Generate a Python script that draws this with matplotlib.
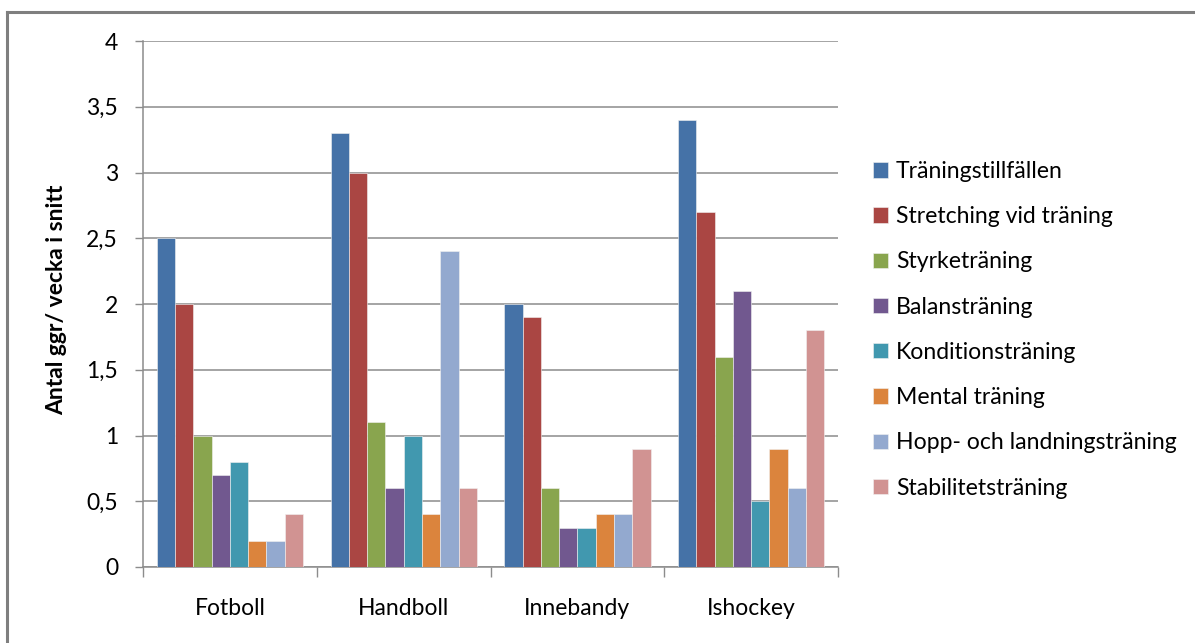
import matplotlib.pyplot as plt
import numpy as np
from matplotlib.lines import Line2D

plt.rcParams['font.family'] = ['Lato', 'DejaVu Sans']

sports = ['Fotboll', 'Handboll', 'Innebandy', 'Ishockey']
series = ['Träningstillfällen', 'Stretching vid träning', 'Styrketräning',
          'Balansträning', 'Konditionsträning', 'Mental träning',
          'Hopp- och landningsträning', 'Stabilitetsträning']
values = [
    [2.5, 3.3, 2.0, 3.4],
    [2.0, 3.0, 1.9, 2.7],
    [1.0, 1.1, 0.6, 1.6],
    [0.7, 0.6, 0.3, 2.1],
    [0.8, 1.0, 0.3, 0.5],
    [0.2, 0.4, 0.4, 0.9],
    [0.2, 2.4, 0.4, 0.6],
    [0.4, 0.6, 0.9, 1.8],
]
colors = ['#4572A7', '#AA4643', '#89A54E', '#71588F',
          '#4198AF', '#DB843D', '#93A9CF', '#D19392']
yticks = [0, 0.5, 1, 1.5, 2, 2.5, 3, 3.5, 4]

fig = plt.figure(figsize=(11.95, 6.43), dpi=100)
ax = fig.add_axes([0.1197, 0.1182, 0.5816, 0.818])

# excel style: 8 bars + 150% gap per category
n = len(series)
w = 1.0 / (n + 1.5)
x = np.arange(len(sports))
for i, (name, vals) in enumerate(zip(series, values)):
    off = -0.5 + 0.75 * w + i * w + w / 2
    ax.bar(x + off, vals, width=w, color=colors[i], label=name,
           edgecolor='#f2f2f2', linewidth=0.4, zorder=3)

ax.set_xlim(-0.5, len(sports) - 0.5)
ax.set_ylim(0, 4)
ax.set_yticks(yticks)
ax.set_yticklabels([('%g' % t).replace('.', ',') for t in yticks], fontsize=16.5)
ax.yaxis.grid(True, color='#8c8c8c', linewidth=1.1, zorder=0)

ax.set_xticks(x)
ax.set_xticklabels(sports, fontsize=16.5)
ax.tick_params(axis='x', length=0, pad=22)
ax.set_xticks(np.arange(len(sports) + 1) - 0.5, minor=True)
ax.tick_params(axis='x', which='minor', length=7, color='#8c8c8c', width=1)
ax.tick_params(axis='y', length=6, color='#8c8c8c', width=1, pad=12)

for s in ['top', 'right']:
    ax.spines[s].set_visible(False)
for s in ['left', 'bottom']:
    ax.spines[s].set_color('#8c8c8c')
    ax.spines[s].set_linewidth(1.1)

fig.text(0.047, 0.533, 'Antal ggr/ vecka i snitt', rotation=90, fontsize=16.5,
         fontweight='bold', ha='center', va='center')

leg = ax.legend(loc='center left', bbox_to_anchor=(1.02, 0.451), frameon=False,
                fontsize=16.6, handlelength=0.65, handleheight=0.65,
                handletextpad=0.35, labelspacing=1.05)

# chart frame (top and left edges)
fig.add_artist(Line2D([0.006, 1.0], [0.981, 0.981], color='#7f7f7f', lw=2.2))
fig.add_artist(Line2D([0.006, 0.006], [0.0, 0.981], color='#7f7f7f', lw=2.2))

fig.savefig('out.png', dpi=100)
